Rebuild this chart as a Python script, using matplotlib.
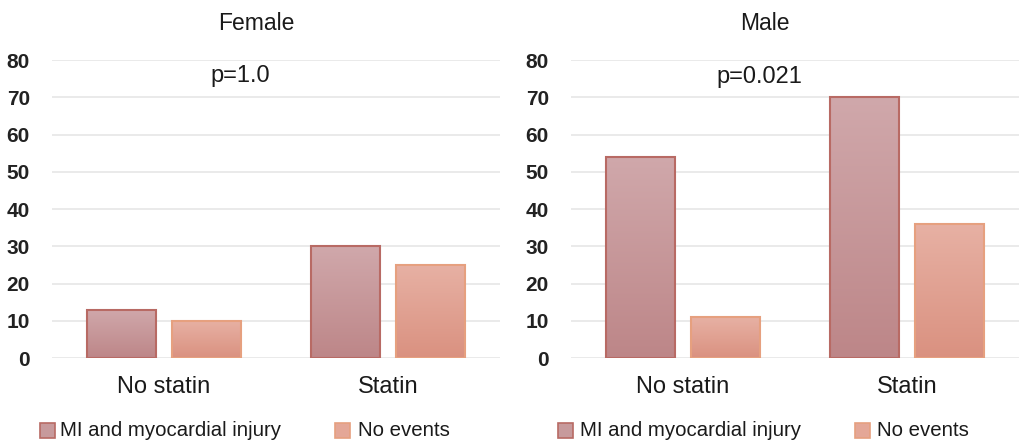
import matplotlib
matplotlib.use("Agg")
import matplotlib.pyplot as plt
import numpy as np
from matplotlib.colors import LinearSegmentedColormap
from matplotlib.patches import Rectangle

# ---- data ----
categories = ["No statin", "Statin"]
series_names = ["MI and myocardial injury", "No events"]
female_mi = [13, 30]
female_none = [10, 25]
male_mi = [54, 70]
male_none = [11, 36]
panel_titles = ["Female", "Male"]
p_values = ["p=1.0", "p=0.021"]
y_ticks = [0, 10, 20, 30, 40, 50, 60, 70, 80]

plt.rcParams['font.family'] = ['Liberation Sans', 'DejaVu Sans']

fig = plt.figure(figsize=(10.24, 4.42), dpi=100)

mi_top, mi_bot, mi_edge = "#d0a8ab", "#bd8688", "#b86a64"
ne_top, ne_bot, ne_edge = "#e7b1a4", "#da9180", "#e6a07f"

def grad_bars(ax, bars, top, bot):
    cmap = LinearSegmentedColormap.from_list("g", [bot, top])
    grad = np.linspace(0, 1, 256).reshape(-1, 1)
    for b in bars:
        x0, y0 = b.get_x(), b.get_y()
        w, h = b.get_width(), b.get_height()
        im = ax.imshow(grad, extent=[x0, x0 + w, y0, y0 + h], origin="lower",
                       cmap=cmap, aspect="auto", zorder=2)
        im.set_clip_path(b)

panels = [
    (0.0508, female_mi, female_none),
    (0.5576, male_mi, male_none),
]
bw = 0.31
off = 0.19
x = np.arange(len(categories))
for left, mi, ne in panels:
    ax = fig.add_axes([left, 0.19, 0.4375, 0.674])
    b1 = ax.bar(x - off, mi, bw, facecolor="none", edgecolor=mi_edge, linewidth=1.5, zorder=3)
    b2 = ax.bar(x + off, ne, bw, facecolor="none", edgecolor=ne_edge, linewidth=1.5, zorder=3)
    grad_bars(ax, b1, mi_top, mi_bot)
    grad_bars(ax, b2, ne_top, ne_bot)
    ax.set_xlim(-0.5, 1.5)
    ax.set_ylim(0, 80)
    ax.set_yticks(y_ticks)
    ax.set_yticklabels([str(t) for t in y_ticks], fontsize=15, fontweight="bold", color="#222222")
    ax.set_xticks(x)
    ax.set_xticklabels(categories, fontsize=17, color="#1a1a1a")
    ax.tick_params(axis="both", length=0)
    ax.tick_params(axis="y", pad=16)
    ax.tick_params(axis="x", pad=13)
    ax.yaxis.grid(True, color="#e6e6e6", linewidth=1.2)
    ax.set_axisbelow(True)
    for s in ax.spines.values():
        s.set_visible(False)

# titles and p-values
fig.text(256 / 1024, 1 - 24 / 442, panel_titles[0], ha="center", va="center", fontsize=16.5, color="#1a1a1a")
fig.text(765 / 1024, 1 - 24 / 442, panel_titles[1], ha="center", va="center", fontsize=16.5, color="#1a1a1a")
fig.text(240 / 1024, 1 - 76 / 442, p_values[0], ha="center", va="center", fontsize=17, color="#1a1a1a")
fig.text(759 / 1024, 1 - 77 / 442, p_values[1], ha="center", va="center", fontsize=17, color="#1a1a1a")

# legends
def legend_item(xsq, xtxt, label, face, edge):
    y = 1 - 430 / 442
    fig.patches.append(Rectangle((xsq / 1024, y - 7.5 / 442), 15 / 1024, 15 / 442,
                                 transform=fig.transFigure, facecolor=face, edgecolor=edge, linewidth=1.2))
    fig.text(xtxt / 1024, y, label, ha="left", va="center", fontsize=14.7, color="#1a1a1a")

legend_item(40, 60, series_names[0], "#c79a9c", mi_edge)
legend_item(335, 358, series_names[1], "#e4a797", ne_edge)
legend_item(558, 580, series_names[0], "#c79a9c", mi_edge)
legend_item(855, 877, series_names[1], "#e4a797", ne_edge)

fig.savefig("out.png", dpi=100)
